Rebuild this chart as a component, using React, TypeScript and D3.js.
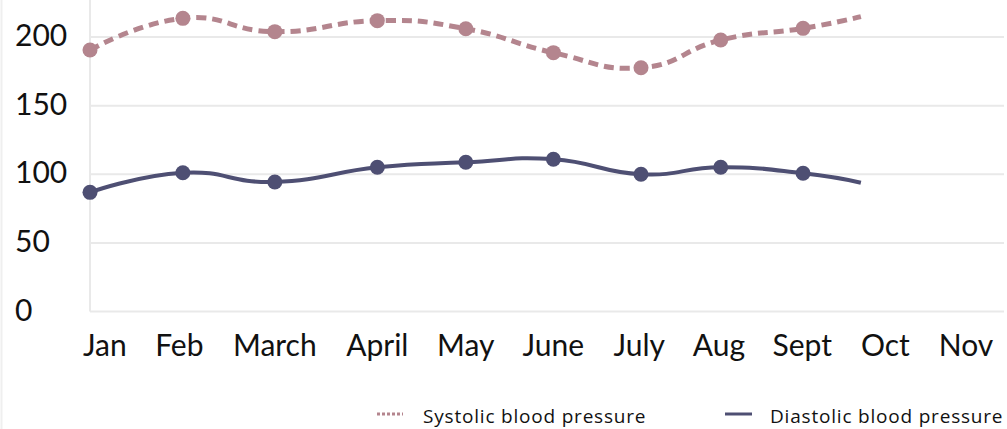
import React from 'react';
import * as d3 from 'd3';

const monthLabels = ['Jan', 'Feb', 'March', 'April', 'May', 'June', 'July', 'Aug', 'Sept', 'Oct', 'Nov'];
const monthLabelPos = [0.17, 1.02, 2.11, 3.28, 4.29, 5.29, 6.27, 7.18, 8.13, 9.08, 10];
const readingPos = [0, 1.06, 2.11, 3.28, 4.29, 5.29, 6.29, 7.2, 8.14, 8.8];
const systolic = [190.5, 213.6, 203.9, 211.9, 206, 188.6, 177.6, 197.8, 206.3, 214.8];
const diastolic = [86.8, 101.1, 94.4, 105.1, 108.7, 110.9, 100, 105.1, 100.7, 93.8];
const markerShown = [true, true, true, true, true, true, true, true, true, false];
const yTicks = [0, 50, 100, 150, 200];
const seriesNames = ['Systolic blood pressure', 'Diastolic blood pressure'];

const W = 1007;
const H = 429;
const SYS = '#b4858e';
const DIA = '#4e4f73';
const GRID = '#e9e9e9';

export default function App() {
  const x = d3.scaleLinear().domain([0, 10]).range([90, 966]);
  const y = d3.scaleLinear().domain([0, 200]).range([311.5, 37]);
  const line = d3
    .line<[number, number]>()
    .x((d) => x(d[0]))
    .y((d) => y(d[1]))
    .curve(d3.curveCardinal.tension(-0.45));
  const sysPts: [number, number][] = readingPos.map((p, i) => [p, systolic[i]]);
  const diaPts: [number, number][] = readingPos.map((p, i) => [p, diastolic[i]]);

  return (
    <svg
      width={W}
      height={H}
      style={{ position: 'absolute', left: 0, top: 0, background: '#fff' }}
    >
      <line x1={1.5} x2={1.5} y1={0} y2={H} stroke="#efefef" strokeWidth={2} />
      {yTicks.map((t) => (
        <line key={'g' + t} x1={x(0)} x2={1004} y1={y(t)} y2={y(t)} stroke={GRID} strokeWidth={2} />
      ))}
      <line x1={x(0)} x2={x(0)} y1={0} y2={y(0)} stroke={GRID} strokeWidth={2} />
      {yTicks.map((t) => (
        <text
          key={'t' + t}
          x={15}
          y={y(t) - 3}
          dominantBaseline="central"
          fontFamily="Lato"
          fontSize={30}
          fill="#111"
        >
          {t}
        </text>
      ))}
      {monthLabels.map((m, i) => (
        <text
          key={m}
          x={x(monthLabelPos[i])}
          y={356}
          textAnchor="middle"
          fontFamily="Lato"
          fontSize={30}
          fill="#111"
        >
          {m}
        </text>
      ))}
      <path d={line(sysPts) || ''} fill="none" stroke={SYS} strokeWidth={5} strokeDasharray="10,6" />
      <path d={line(diaPts) || ''} fill="none" stroke={DIA} strokeWidth={4} />
      {sysPts.map((d, i) =>
        markerShown[i] ? <circle key={'s' + i} cx={x(d[0])} cy={y(d[1])} r={7.5} fill={SYS} /> : null
      )}
      {diaPts.map((d, i) =>
        markerShown[i] ? <circle key={'d' + i} cx={x(d[0])} cy={y(d[1])} r={7.5} fill={DIA} /> : null
      )}
      <g fontFamily="Open Sans" fontSize={19} fill="#111" letterSpacing={0.8}>
        <line x1={377} x2={403} y1={414} y2={414} stroke={SYS} strokeWidth={3} strokeDasharray="3,2" />
        <text x={423} y={422.5}>{seriesNames[0]}</text>
        <line x1={725} x2={752} y1={414} y2={414} stroke={DIA} strokeWidth={3} />
        <text x={770} y={422.5}>{seriesNames[1]}</text>
      </g>
    </svg>
  );
}
